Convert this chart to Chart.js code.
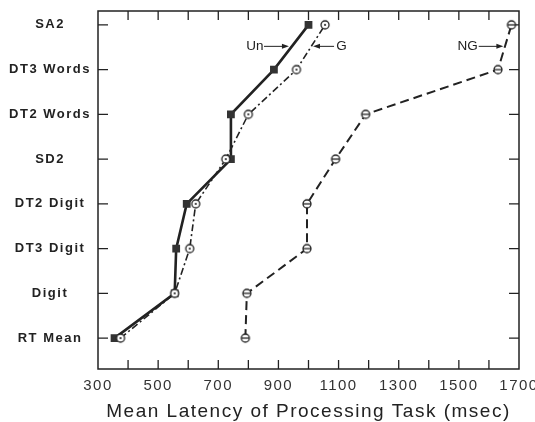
<!DOCTYPE html>
<html>
<head>
<meta charset="utf-8">
<script src="https://cdn.jsdelivr.net/npm/chart.js@4.4.0/dist/chart.umd.min.js"></script>
<style>
  html, body { margin: 0; padding: 0; background: #fff; }
  #wrap { width: 535px; height: 422px; }
</style>
</head>
<body>
<div id="wrap"><canvas id="myChart"></canvas></div>
<script>
// tareas, de abajo hacia arriba
const categories = ['RT Mean', 'Digit', 'DT3 Digit', 'DT2 Digit', 'SD2', 'DT2 Words', 'DT3 Words', 'SA2'];

// latencias medias (msec)
const unValues = [355, 555, 560, 595, 742, 742, 885, 1000];
const gValues = [375, 555, 605, 625, 725, 800, 960, 1055];
const ngValues = [790, 795, 995, 995, 1090, 1190, 1630, 1675];

const xLabels = [300, 500, 700, 900, 1100, 1300, 1500, 1700];

const ink = '#222';

// marcadores: circulo con punto (G) y circulo con raya (NG)
function marker(kind) {
    const c = document.createElement('canvas');
    c.width = 12; c.height = 12;
    const g = c.getContext('2d');
    g.fillStyle = '#fff';
    g.strokeStyle = ink;
    g.lineWidth = 1.3;
    g.beginPath();
    g.arc(6, 6, 4, 0, Math.PI * 2);
    g.fill();
    g.stroke();
    if (kind === 'dot') {
        g.fillStyle = ink;
        g.beginPath();
        g.arc(6, 6, 1.1, 0, Math.PI * 2);
        g.fill();
    } else {
        g.beginPath();
        g.moveTo(2, 6);
        g.lineTo(10, 6);
        g.stroke();
    }
    return c;
}

const toPoints = vals => vals.map((v, i) => ({ x: v, y: i }));

const frame = {
    id: 'frame',
    beforeLayout(chart) { chart.ctx.letterSpacing = '1.5px'; },
    beforeDraw(chart) { chart.ctx.letterSpacing = '1.5px'; },
    beforeDatasetsDraw(chart) {
        const { ctx, chartArea: a, scales: { x, y } } = chart;
        ctx.save();
        ctx.strokeStyle = ink;
        ctx.lineWidth = 1.5;
        ctx.strokeRect(a.left, a.top, a.right - a.left, a.bottom - a.top);
        ctx.lineWidth = 1.3;
        ctx.beginPath();
        x.ticks.forEach(t => {
            if (t.value <= x.min || t.value >= x.max) return;
            const px = x.getPixelForValue(t.value);
            ctx.moveTo(px, a.bottom); ctx.lineTo(px, a.bottom - 9);
            ctx.moveTo(px, a.top); ctx.lineTo(px, a.top + 9);
        });
        categories.forEach((c, i) => {
            const py = y.getPixelForValue(i);
            ctx.moveTo(a.left, py); ctx.lineTo(a.left + 10, py);
            ctx.moveTo(a.right, py); ctx.lineTo(a.right - 10, py);
        });
        ctx.stroke();
        ctx.restore();
    },
    afterDatasetsDraw(chart) {
        const { ctx, scales: { x, y } } = chart;
        // etiquetas con flecha: [texto, x del texto, alineado, flecha desde, flecha hasta]
        const notes = [
            ['Un', 850, 'right', 852, 935],
            ['G', 1092, 'left', 1085, 1015],
            ['NG', 1563, 'right', 1566, 1648]
        ];
        const py = y.getPixelForValue(6.52);
        ctx.save();
        ctx.letterSpacing = '0px';
        ctx.font = '13.5px "Liberation Sans", Arial, sans-serif';
        ctx.fillStyle = ink;
        ctx.strokeStyle = ink;
        ctx.lineWidth = 1;
        ctx.textBaseline = 'middle';
        notes.forEach(([txt, tx, align, from, to]) => {
            ctx.textAlign = align;
            ctx.fillText(txt, x.getPixelForValue(tx), py);
            const x1 = x.getPixelForValue(from);
            const x2 = x.getPixelForValue(to);
            const dir = Math.sign(x2 - x1);
            ctx.beginPath();
            ctx.moveTo(x1, py);
            ctx.lineTo(x2 - dir * 5, py);
            ctx.stroke();
            ctx.beginPath();
            ctx.moveTo(x2, py);
            ctx.lineTo(x2 - dir * 7, py - 2.5);
            ctx.lineTo(x2 - dir * 7, py + 2.5);
            ctx.closePath();
            ctx.fill();
        });
        ctx.restore();
    }
};

new Chart(document.getElementById('myChart'), {
    type: 'line',
    data: {
        datasets: [
            {
                label: 'G',
                data: toPoints(gValues),
                borderColor: ink,
                borderWidth: 1.6,
                borderDash: [7, 3, 2, 3],
                pointStyle: marker('dot'),
                pointRadius: 5
            },
            {
                label: 'Un',
                data: toPoints(unValues),
                borderColor: ink,
                backgroundColor: '#333',
                borderWidth: 2.6,
                pointStyle: 'rect',
                pointRadius: 5.5,
                pointBorderWidth: 0
            },
            {
                label: 'NG',
                data: toPoints(ngValues),
                borderColor: ink,
                borderWidth: 2,
                borderDash: [9, 5],
                pointStyle: marker('bar'),
                pointRadius: 5
            }
        ]
    },
    options: {
        responsive: true,
        maintainAspectRatio: false,
        animation: false,
        layout: { padding: { top: 11, right: 16, left: 0, bottom: 0 } },
        plugins: { legend: { display: false }, tooltip: { enabled: false } },
        elements: { line: { tension: 0, fill: false } },
        scales: {
            x: {
                type: 'linear',
                min: 300,
                max: 1700,
                afterFit: s => { s.height = 53; s.paddingLeft = 0; s.paddingRight = 0; },
                grid: { display: false, drawTicks: false },
                border: { display: false },
                ticks: {
                    stepSize: 100,
                    autoSkip: false,
                    maxRotation: 0,
                    padding: 8,
                    color: '#333',
                    font: { family: '"Liberation Sans", Arial, sans-serif', size: 15 },
                    callback: v => xLabels.includes(v) ? String(v) : ''
                },
                title: {
                    display: true,
                    text: 'Mean Latency of Processing Task (msec)',
                    color: ink,
                    padding: { top: 0, bottom: -1 },
                    font: { family: '"Liberation Sans", Arial, sans-serif', size: 19 }
                }
            },
            y: {
                type: 'linear',
                min: -0.69,
                max: 7.31,
                afterFit: s => { s.width = 98; s.paddingTop = 0; s.paddingBottom = 0; },
                afterBuildTicks: s => { s.ticks = categories.map((c, i) => ({ value: i })); },
                grid: { display: false, drawTicks: false },
                border: { display: false },
                ticks: {
                    autoSkip: false,
                    crossAlign: 'center',
                    padding: 7,
                    color: ink,
                    font: { family: '"Liberation Sans", Arial, sans-serif', size: 13, weight: 'bold' },
                    callback: v => categories[v]
                }
            }
        }
    },
    plugins: [frame]
});
</script>
</body>
</html>
